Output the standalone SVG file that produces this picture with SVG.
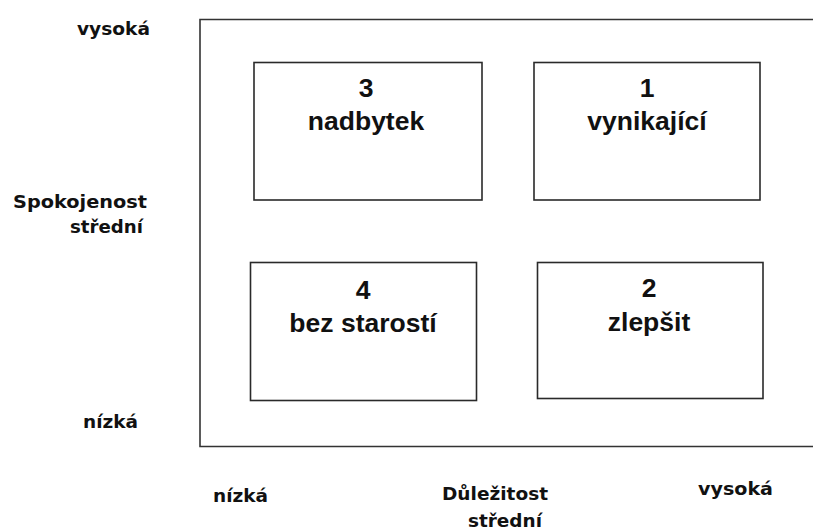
<svg xmlns="http://www.w3.org/2000/svg" width="813" height="530" viewBox="0 0 813 530">
  <style>
    .frame { fill: none; stroke: #333; stroke-width: 1.6; }
    .box { fill: #fff; stroke: #2a2a2a; stroke-width: 1.6; }
    .lbl { font-family: "Liberation Sans", Arial, sans-serif; font-weight: bold; font-size: 26.5px; fill: #111; text-anchor: middle; }
    .axis { font-family: "DejaVu Sans", Verdana, sans-serif; font-weight: bold; font-size: 18.5px; fill: #111; }
  </style>
  <rect width="813" height="530" fill="#fff"/>

  <!-- outer frame (right side runs off the page) -->
  <g id="frame">
    <path class="frame" d="M820 19.5 H200 V446.5 H820"/>
  </g>

  <g id="q3">
    <rect class="box" x="254" y="62.5" width="228" height="137.5"/>
    <text class="lbl" x="366" y="97">3</text>
    <text class="lbl" x="366" y="130">nadbytek</text>
  </g>
  <g id="q1">
    <rect class="box" x="534" y="62.5" width="226" height="137.5"/>
    <text class="lbl" x="647" y="97">1</text>
    <text class="lbl" x="647" y="130">vynikající</text>
  </g>
  <g id="q4">
    <rect class="box" x="250.5" y="262.5" width="226" height="138"/>
    <text class="lbl" x="363" y="299">4</text>
    <text class="lbl" x="363" y="332">bez starostí</text>
  </g>
  <g id="q2">
    <rect class="box" x="537.5" y="262.5" width="225.5" height="136"/>
    <text class="lbl" x="649" y="297">2</text>
    <text class="lbl" x="649" y="331">zlepšit</text>
  </g>

  <!-- vertical axis: Spokojenost -->
  <g id="axis-y">
    <text class="axis" x="77" y="35" textLength="73" lengthAdjust="spacingAndGlyphs">vysoká</text>
    <text class="axis" x="13" y="207.5" textLength="134" lengthAdjust="spacingAndGlyphs">Spokojenost</text>
    <text class="axis" x="70" y="233" textLength="73" lengthAdjust="spacingAndGlyphs">střední</text>
    <text class="axis" x="83" y="428" textLength="55" lengthAdjust="spacingAndGlyphs">nízká</text>
  </g>

  <!-- horizontal axis: Důležitost -->
  <g id="axis-x">
    <text class="axis" x="213" y="502" textLength="55" lengthAdjust="spacingAndGlyphs">nízká</text>
    <text class="axis" x="442" y="500" textLength="106" lengthAdjust="spacingAndGlyphs">Důležitost</text>
    <text class="axis" x="468" y="527" textLength="74" lengthAdjust="spacingAndGlyphs">střední</text>
    <text class="axis" x="698" y="495" textLength="75" lengthAdjust="spacingAndGlyphs">vysoká</text>
  </g>
</svg>
